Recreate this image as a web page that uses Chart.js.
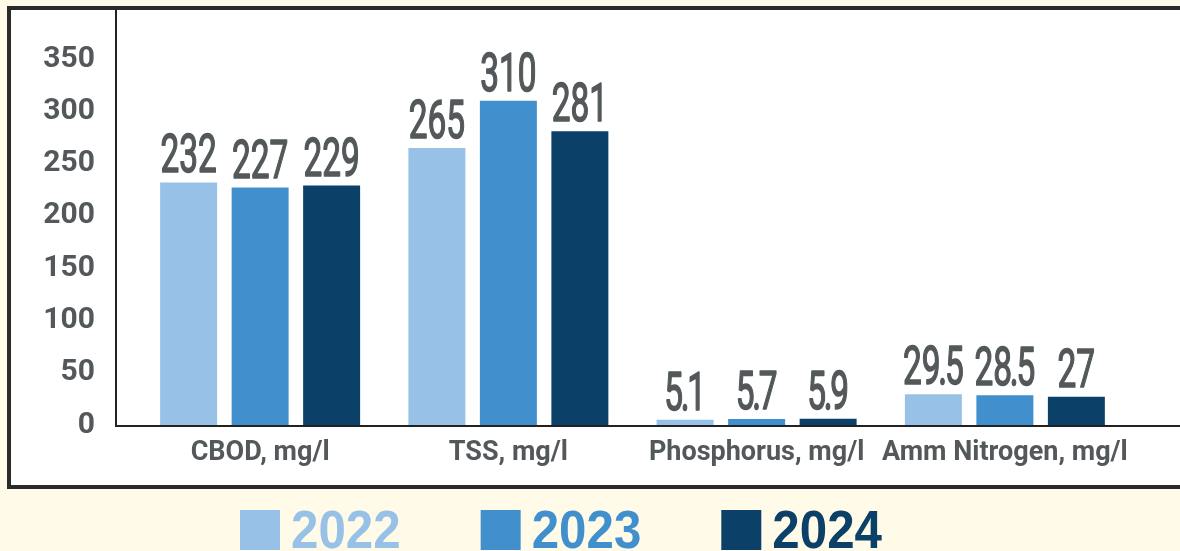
<!DOCTYPE html>
<html>
<head>
<meta charset="utf-8">
<script src="https://cdn.jsdelivr.net/npm/chart.js@4/dist/chart.umd.min.js"></script>
<style>
  html, body { margin: 0; padding: 0; background: #fffbe8; overflow: hidden; }
  canvas { display: block; }
</style>
</head>
<body>
<canvas id="chart" width="1180" height="551"></canvas>
<script>
const categories = ['CBOD, mg/l', 'TSS, mg/l', 'Phosphorus, mg/l', 'Amm Nitrogen, mg/l'];
const years = ['2022', '2023', '2024'];
const values2022 = [232, 265, 5.1, 29.5];
const values2023 = [227, 310, 5.7, 28.5];
const values2024 = [229, 281, 5.9, 27];
const yMax = 350;
const yStep = 50;

const colors = ['#97c1e6', '#428fce', '#0b4068'];
const textGray = '#53585a';

// cream page, white framed panel, and the two axis lines
const framePlugin = {
  id: 'frame',
  beforeDraw(chart) {
    const { ctx, width, height } = chart;
    ctx.save();
    ctx.fillStyle = '#fffbe8';
    ctx.fillRect(0, 0, width, height);
    ctx.fillStyle = '#ffffff';
    ctx.fillRect(9, 8, width + 20, 479);
    ctx.strokeStyle = '#2a2a2a';
    ctx.lineWidth = 4;
    ctx.strokeRect(9, 8, width + 20, 479);
    ctx.restore();
  },
  afterDatasetsDraw(chart) {
    const { ctx, chartArea, width } = chart;
    const axisX = chartArea.left - 20;
    ctx.save();
    ctx.strokeStyle = '#222222';
    ctx.lineWidth = 2;
    ctx.beginPath();
    ctx.moveTo(axisX, 10);
    ctx.lineTo(axisX, chartArea.bottom + 2);
    ctx.moveTo(axisX, chartArea.bottom + 1);
    ctx.lineTo(width, chartArea.bottom + 1);
    ctx.stroke();
    ctx.restore();
  }
};

// condensed value labels on top of each bar (tight decimal point)
const valueLabels = {
  id: 'valueLabels',
  afterDatasetsDraw(chart) {
    const { ctx } = chart;
    const size = 53, sx = 0.63;
    ctx.save();
    ctx.fillStyle = textGray;
    ctx.strokeStyle = textGray;
    ctx.lineWidth = 1.6;
    ctx.lineJoin = 'round';
    ctx.font = size + 'px Roboto';
    ctx.textAlign = 'center';
    ctx.textBaseline = 'alphabetic';
    const adv = ch => ch === '.' ? size * 0.13 : ctx.measureText(ch).width;
    chart.data.datasets.forEach((ds, i) => {
      chart.getDatasetMeta(i).data.forEach((bar, j) => {
        const txt = String(ds.data[j]);
        const total = [...txt].reduce((s, ch) => s + adv(ch), 0);
        ctx.save();
        ctx.translate(bar.x, bar.y - 10);
        ctx.scale(sx, 1);
        let cx = -total / 2;
        for (const ch of txt) {
          const a = adv(ch);
          ctx.fillText(ch, cx + a / 2, 0);
          ctx.strokeText(ch, cx + a / 2, 0);
          cx += a;
        }
        ctx.restore();
      });
    });
    ctx.restore();
  }
};

// year legend under the panel
const yearLegend = {
  id: 'yearLegend',
  afterDraw(chart) {
    const { ctx } = chart;
    ctx.save();
    ctx.font = 'bold 53px "Liberation Sans"';
    ctx.textBaseline = 'alphabetic';
    let x = 240;
    chart.data.datasets.forEach(ds => {
      ctx.fillStyle = ds.backgroundColor;
      ctx.fillRect(x, 510, 40, 40);
      const w = ctx.measureText(ds.label).width * 0.93;
      ctx.save();
      ctx.translate(x + 51, 548);
      ctx.scale(0.93, 1);
      ctx.fillText(ds.label, 0, 0);
      ctx.restore();
      x += 51 + w + 80;
    });
    ctx.restore();
  }
};

new Chart(document.getElementById('chart'), {
  type: 'bar',
  data: {
    labels: categories,
    datasets: [
      { label: years[0], data: values2022, backgroundColor: colors[0] },
      { label: years[1], data: values2023, backgroundColor: colors[1] },
      { label: years[2], data: values2024, backgroundColor: colors[2] }
    ]
  },
  options: {
    responsive: false,
    animation: false,
    devicePixelRatio: 1,
    layout: { padding: { left: 0, top: 55, right: 51, bottom: 66 } },
    datasets: { bar: { categoryPercentage: 0.864, barPercentage: 0.797 } },
    plugins: {
      legend: { display: false },
      tooltip: { enabled: false }
    },
    scales: {
      x: {
        grid: { display: false, drawTicks: false },
        border: { display: false },
        ticks: {
          color: textGray,
          font: { family: 'Roboto', weight: 'bold', size: 27 },
          padding: 12,
          maxRotation: 0,
          autoSkip: false
        },
        afterFit(scale) { scale.height = 60; }
      },
      y: {
        min: 0,
        max: yMax,
        grid: { display: false, drawTicks: false },
        border: { display: false },
        ticks: {
          stepSize: yStep,
          color: textGray,
          font: { family: 'Roboto', weight: 'bold', size: 30 },
          padding: 41
        },
        afterFit(scale) { scale.width = 136; }
      }
    }
  },
  plugins: [framePlugin, valueLabels, yearLegend]
});
</script>
</body>
</html>
